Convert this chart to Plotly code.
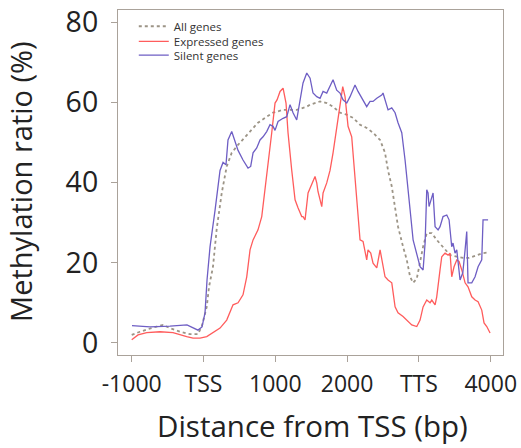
import plotly.graph_objects as go

# Distance from TSS (bp) / methylation ratio (%)
all_x = [-1000, -885, -652, -564, -467, -327, -188, -77, -25, 45, 77, 132, 184, 254, 323, 393, 481, 578, 671, 759, 880, 968, 1108, 1298, 1438, 1484, 1623, 1716, 1804, 1901, 1995, 2083, 2180, 2273, 2361, 2459, 2528, 2570, 2622, 2668, 2709, 2779, 2831, 2877, 2919, 2970, 3016, 3058, 3109, 3179, 3248, 3336, 3434, 3527, 3616, 3694, 3806, 3893, 3945]
all_y = [2.0, 2.8, 4.1, 4.5, 3.7, 2.8, 2.2, 2.2, 4.1, 9.0, 14.0, 19.0, 28.5, 37.4, 44.0, 47.4, 49.4, 51.4, 53.1, 54.9, 56.4, 57.4, 58.1, 58.1, 58.9, 59.4, 60.2, 59.8, 58.9, 57.4, 56.9, 56.1, 54.4, 53.6, 52.4, 50.6, 47.4, 43.0, 39.0, 34.0, 29.0, 24.0, 20.7, 16.5, 15.0, 16.0, 19.9, 24.0, 27.4, 27.4, 25.7, 24.0, 21.9, 21.5, 21.2, 21.2, 21.9, 22.4, 22.5]

expr_x = [-1000, -912, -791, -606, -425, -327, -234, -146, -49, 45, 132, 230, 323, 411, 481, 550, 602, 648, 690, 759, 811, 857, 899, 950, 996, 1024, 1066, 1108, 1149, 1177, 1229, 1275, 1316, 1368, 1386, 1414, 1456, 1484, 1525, 1553, 1577, 1595, 1647, 1665, 1716, 1762, 1804, 1855, 1901, 1939, 1971, 2013, 2064, 2110, 2152, 2180, 2222, 2273, 2291, 2329, 2361, 2413, 2459, 2482, 2528, 2570, 2622, 2668, 2709, 2779, 2831, 2900, 2970, 3016, 3058, 3109, 3155, 3179, 3225, 3248, 3294, 3318, 3364, 3406, 3434, 3457, 3489, 3527, 3559, 3597, 3643, 3684, 3736, 3782, 3824, 3875, 3907, 3945, 3991]
expr_y = [0.8, 2.0, 2.6, 2.8, 2.6, 2.0, 1.6, 1.2, 1.2, 1.6, 2.5, 3.7, 5.7, 9.5, 10.0, 12.0, 16.5, 23.2, 25.7, 28.2, 31.5, 38.2, 44.0, 52.4, 59.8, 60.6, 62.7, 63.5, 59.8, 52.4, 43.0, 35.7, 33.7, 31.5, 31.5, 30.7, 37.4, 38.6, 40.6, 41.5, 39.9, 37.7, 34.0, 37.4, 39.9, 43.0, 47.4, 54.0, 59.8, 63.9, 61.4, 54.0, 51.4, 41.5, 33.2, 25.7, 25.3, 20.7, 23.2, 22.4, 19.9, 18.7, 23.2, 20.7, 16.5, 15.7, 15.0, 9.0, 7.5, 6.6, 5.7, 4.5, 4.1, 5.7, 9.0, 10.7, 10.0, 10.7, 9.5, 11.5, 18.2, 21.5, 22.4, 21.9, 22.4, 16.5, 19.0, 20.7, 20.3, 18.2, 15.0, 14.0, 11.5, 10.7, 10.3, 8.2, 5.0, 4.1, 2.5]

sil_x = [-996, -745, -467, -230, -77, -21, 21, 49, 91, 118, 160, 230, 272, 313, 341, 393, 439, 481, 550, 620, 657, 690, 741, 787, 829, 880, 926, 968, 996, 1038, 1108, 1159, 1205, 1247, 1298, 1344, 1386, 1438, 1484, 1525, 1577, 1623, 1665, 1716, 1762, 1804, 1855, 1901, 1943, 1995, 2041, 2110, 2152, 2204, 2273, 2319, 2361, 2413, 2482, 2500, 2528, 2570, 2622, 2668, 2709, 2761, 2807, 2849, 2877, 2919, 2970, 3016, 3058, 3086, 3109, 3127, 3141, 3179, 3197, 3225, 3267, 3294, 3336, 3388, 3420, 3457, 3475, 3503, 3527, 3573, 3611, 3643, 3666, 3684, 3736, 3782, 3824, 3875, 3893, 3963]
sil_y = [4.3, 4.0, 4.2, 4.5, 3.2, 4.0, 7.5, 15.7, 24.0, 28.0, 33.0, 43.0, 45.0, 44.4, 50.6, 52.7, 49.9, 48.0, 45.6, 43.6, 44.0, 47.4, 48.6, 50.6, 51.4, 52.7, 54.4, 54.0, 53.0, 55.2, 56.0, 56.4, 59.4, 57.4, 55.6, 60.6, 64.8, 67.3, 66.0, 62.3, 61.4, 61.0, 62.7, 62.3, 63.9, 65.6, 63.0, 62.3, 60.6, 59.8, 61.4, 64.3, 62.7, 61.0, 58.9, 60.2, 60.2, 61.0, 61.8, 62.3, 60.6, 58.1, 58.6, 57.4, 54.9, 52.4, 45.6, 38.9, 33.2, 25.7, 22.4, 19.0, 18.2, 24.9, 38.2, 37.4, 34.0, 36.5, 37.4, 29.0, 28.2, 29.0, 31.5, 31.9, 30.7, 24.0, 24.9, 22.4, 23.2, 15.7, 17.5, 23.2, 27.8, 15.0, 15.0, 16.5, 19.0, 20.7, 30.7, 30.7]

x_tickvals = [-1000, 0, 1000, 2000, 3000, 4000]
x_ticktext = ["-1000", "TSS", "1000", "2000", "TTS", "4000"]
y_tickvals = [0, 20, 40, 60, 80]

axis_col = "#aaa29a"
font_fam = "Open Sans, Noto Sans, sans-serif"

fig = go.Figure()
fig.add_trace(go.Scatter(x=all_x, y=all_y, mode="lines", name="All genes", legend="legend",
                         line=dict(color="#9c9486", width=1.8, dash="dot")))
fig.add_trace(go.Scatter(x=expr_x, y=expr_y, mode="lines", name="Expressed genes", legend="legend2",
                         line=dict(color="#ff5c5c", width=1.3)))
fig.add_trace(go.Scatter(x=sil_x, y=sil_y, mode="lines", name="Silent genes", legend="legend3",
                         line=dict(color="#6e5ec4", width=1.3)))

leg_common = dict(xanchor="left", yanchor="top", bgcolor="rgba(0,0,0,0)",
                  font=dict(size=11.5, color="#333333"), itemwidth=30)

fig.update_layout(
    width=521, height=448,
    margin=dict(l=118, r=18, t=10, b=93, autoexpand=False),
    paper_bgcolor="white", plot_bgcolor="white",
    font=dict(family=font_fam, color="#222222"),
    showlegend=True,
    legend=dict(x=0.041, y=0.995, **leg_common),
    legend2=dict(x=0.041, y=0.951, **leg_common),
    legend3=dict(x=0.041, y=0.911, **leg_common),
    xaxis=dict(range=[-1191, 4171], tickvals=x_tickvals, ticktext=x_ticktext,
               automargin=False, ticklabeloverflow="allow",
               showgrid=False, zeroline=False, showline=True, mirror=True,
               linecolor=axis_col, linewidth=1.2, ticks="outside", ticklen=6,
               tickcolor=axis_col, tickfont=dict(size=23, color="#222222"),
               ticklabelstandoff=2),
    yaxis=dict(range=[-3, 83], tickvals=y_tickvals,
               automargin=False, ticklabeloverflow="allow",
               showgrid=False, zeroline=False, showline=True, mirror=True,
               linecolor=axis_col, linewidth=1.2, ticks="outside", ticklen=6,
               tickcolor=axis_col, tickfont=dict(size=28.5, color="#222222"),
               ticklabelstandoff=7),
    annotations=[
        dict(text="Methylation ratio (%)", textangle=-90, xref="paper", yref="paper",
             x=-0.255, y=0.504, xanchor="center", yanchor="middle", showarrow=False,
             font=dict(size=29, color="#222222")),
        dict(text="Distance from TSS (bp)", xref="paper", yref="paper",
             x=0.504, y=-0.203, xanchor="center", yanchor="middle", showarrow=False,
             font=dict(size=29.5, color="#222222")),
    ],
)

fig.write_html("out.html", config={"displayModeBar": False},
               post_script="document.body.style.margin='0px';")
